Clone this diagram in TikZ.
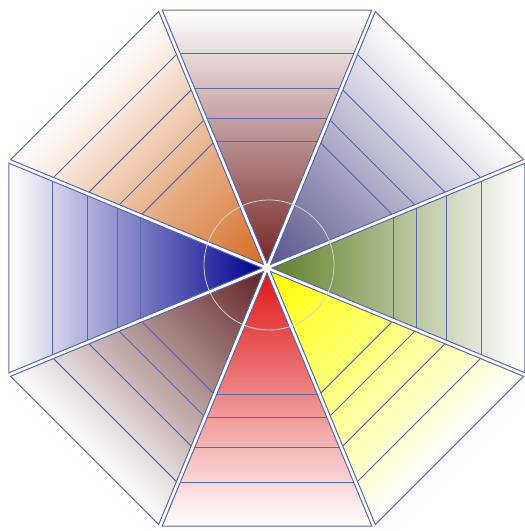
\documentclass[tikz,border=0pt]{standalone}
\usepackage{tikz}
\usepackage{xcolor}

\definecolor{edgeblue}{RGB}{88,104,172}
\definecolor{cMaroon}{RGB}{118,38,38}
\definecolor{cSlate}{RGB}{88,84,140}
\definecolor{cOlive}{RGB}{98,128,40}
\definecolor{cYellow}{RGB}{255,255,0}
\definecolor{cRed}{RGB}{222,22,22}
\definecolor{cBrown}{RGB}{96,34,34}
\definecolor{cNavy}{RGB}{0,0,140}
\definecolor{cOrange}{RGB}{212,108,36}

\begin{document}
\begin{tikzpicture}[x=1pt, y=1pt,
    wedge/.style={draw=edgeblue, line width=1pt, line join=miter},
    band/.style={draw=edgeblue, line width=1pt}]
  \useasboundingbox (-267,-263) rectangle (258,268);

  % eight shaded wedges, each drawn pointing up and turned into place
  \foreach \rot/\col in {0/cMaroon, -45/cSlate, -90/cOlive, -135/cYellow,
                         180/cRed, 135/cBrown, 90/cNavy, 45/cOrange}{
    \begin{scope}[transform canvas={rotate=\rot}]
      \shade[wedge, bottom color=\col, middle color=\col!72!white, top color=white]
        (0,5) -- (-104.8,258) -- (104.8,258) -- cycle;
      % band lines across the wedge
      \foreach \f in {0.83,0.69,0.57,0.48}
        \draw[band] ({-0.41421*\f*253},{5+\f*253}) -- ({0.41421*\f*253},{5+\f*253});
    \end{scope}
  }

  % faint circle round the centre
  \draw[gray!35, line width=0.8pt] (2,3) circle (65);
\end{tikzpicture}
\end{document}
